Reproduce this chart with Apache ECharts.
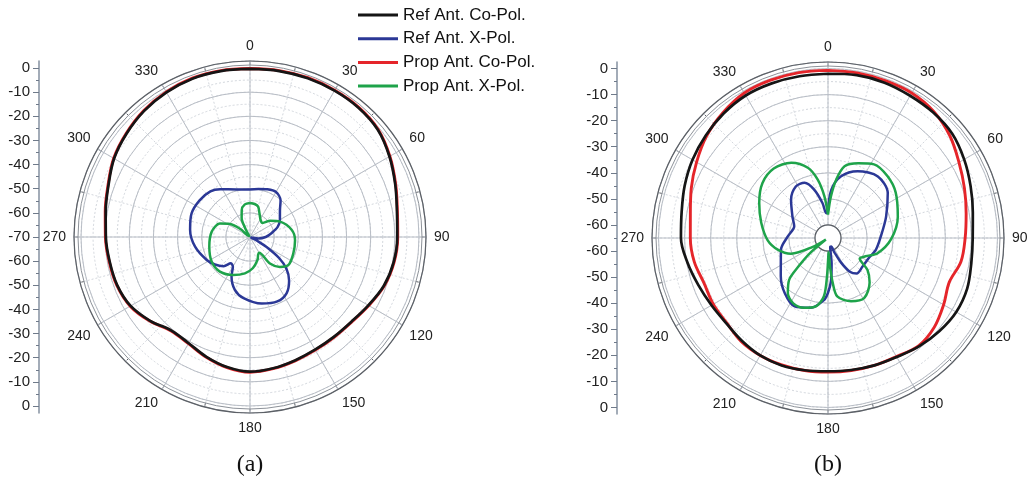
<!DOCTYPE html>
<html>
<head>
<meta charset="utf-8">
<script src="https://cdn.jsdelivr.net/npm/echarts@6/dist/echarts.min.js"></script>
<style>
html,body{margin:0;padding:0;background:#ffffff;}
#c{width:1028px;height:481px;}
</style>
</head>
<body>
<div id="c"></div>
<script>
// ---------------- DATA ----------------
const seriesNames = ['Ref Ant. Co-Pol.', 'Ref Ant. X-Pol.', 'Prop Ant. Co-Pol.', 'Prop Ant. X-Pol.'];
const captions = ['(a)', '(b)'];

// co-pol angles (deg)
const coAngles = [0,10,20,30,40,50,60,70,80,90,100,110,120,130,140,150,160,170,180,190,200,210,220,230,240,250,260,270,280,290,300,310,320,330,340,350,360];

// (a) co-pol, dB
const refCoA  = [-0.4,-0.2,0.0,0.0,-0.1,-0.9,-3.3,-6.0,-8.2,-9.0,-9.6,-11.0,-13.4,-15.3,-16.0,-16.1,-15.6,-14.8,-14.2,-15.3,-17.2,-19.2,-19.4,-16.0,-12.9,-11.5,-11.0,-10.3,-9.3,-7.6,-5.0,-3.3,-1.8,-0.8,-0.2,-0.2,-0.4];
const propCoA = [-0.2,0.0,0.2,0.2,0.1,-0.7,-3.1,-5.8,-8.0,-8.8,-9.4,-10.8,-13.2,-15.1,-15.8,-15.9,-15.4,-14.6,-14.0,-15.1,-17.0,-19.0,-19.2,-15.8,-12.7,-11.3,-10.8,-10.1,-9.1,-7.4,-4.8,-3.1,-1.6,-0.6,0.0,0.0,-0.2];

// (b) co-pol, dB
const refCoB  = [-2.0,-1.6,-1.6,-2.0,-2.2,-2.8,-4.7,-6.8,-8.6,-9.5,-9.2,-8.2,-8.2,-9.3,-10.7,-12.3,-13.0,-13.6,-13.9,-13.5,-13.0,-13.0,-13.6,-14.1,-13.4,-12.1,-10.3,-8.6,-8.0,-6.5,-5.0,-3.8,-2.7,-1.9,-1.9,-2.0,-2.0];
const propCoB = [-0.7,-0.7,-0.8,-0.8,-1.8,-4.0,-7.0,-9.3,-11.2,-12.4,-13.2,-15.5,-13.8,-11.8,-11.0,-12.5,-13.0,-13.4,-13.6,-13.4,-13.2,-13.0,-13.2,-14.3,-14.2,-14.4,-12.9,-12.2,-11.4,-9.2,-6.8,-4.2,-2.3,-0.8,-0.6,-0.6,-0.7];

// (a) X-pol
const refXA_ang  = [0,10,20,30,40,48,60,70,80,90,100,108,114,119,122,126,131,138,147,157,170,186,196,205,210,216,222,232,242,260,277,292,306,319,328,344,360];
const refXA_val  = [-50.3,-49.8,-49.0,-48.5,-50.3,-53.3,-55.7,-57.8,-61.0,-63.5,-66.5,-69.5,-69.8,-66.0,-61.0,-55.0,-50.0,-45.8,-42.2,-41.0,-42.0,-44.5,-47.2,-51.9,-55.8,-56.5,-53.7,-51.5,-49.7,-46.9,-45.0,-43.9,-44.2,-45.0,-46.7,-49.5,-50.3];
const propXA_ang = [0,8,15,22,32,42,51,63,80,94,111,126,135,143,150,155,162,175,188,204,221,237,257,278,294,303,310,318,326,332,336,343,351,360];
const propXA_val = [-55.9,-56.2,-57.0,-59.5,-61.7,-62.2,-59.3,-56.0,-52.5,-51.3,-50.8,-50.3,-52.5,-56.3,-62.5,-62.0,-60.0,-57.0,-54.8,-52.8,-51.0,-51.1,-52.7,-54.0,-56.3,-60.1,-65.0,-69.5,-69.5,-65.5,-61.5,-58.3,-56.3,-55.9];

// (b) X-pol
const refXB_ang  = [0,4,12,24,39,53,70,88,104,115,130,141,147,152,156,160,166,172,176,180,184,194,206,218,231,256,272,289,301,316,328,337,344,351,356,360];
const refXB_val  = [-54.5,-46.4,-40.8,-37.0,-34.6,-36.3,-41.3,-44.7,-46.1,-47.5,-47.8,-47.5,-49.6,-54.3,-59.0,-61.5,-61.5,-55.0,-48.5,-44.0,-41.0,-37.4,-35.8,-38.1,-41.7,-46.4,-49.5,-51.3,-49.1,-44.6,-41.7,-42.0,-45.7,-51.4,-55.5,-54.5];
const propXB_ang = [0,4,8,13,22,32,44,56,73,91,107,116,123,129,137,149,160,171,174,176,178,180,181.5,184,190,199,208,216,223,226,230,236,240,247,257,268,283,297,310,322,334,344,350,355,360];
const propXB_val = [-56.0,-49.0,-42.4,-36.8,-34.1,-31.7,-32.1,-33.7,-37.0,-40.8,-45.1,-49.0,-50.5,-45.5,-41.6,-38.1,-39.2,-42.3,-47.7,-54.0,-59.5,-59.5,-50.3,-42.6,-38.4,-36.7,-36.6,-38.8,-43.2,-49.1,-56.0,-64.0,-58.0,-49.6,-45.2,-41.8,-38.7,-35.4,-32.2,-31.2,-32.9,-37.0,-42.3,-48.9,-56.0];

// side scale tick labels (dB)
const scaleLabelsA = [0,-10,-20,-30,-40,-50,-60,-70,-60,-50,-40,-30,-20,-10,0];
const scaleLabelsB = [0,-10,-20,-30,-40,-50,-60,-60,-50,-40,-30,-20,-10,0];

// ---------------- STYLE / LAYOUT ----------------
const FONT = '"Liberation Sans", Arial, Helvetica, sans-serif';
const SERIF = '"Liberation Serif", "Times New Roman", serif';
const COL = {refCo:'#151515', refX:'#2b3896', propCo:'#e5252a', propX:'#1ea34a'};
const GRID_SOLID = '#b9bec6';
const GRID_DOT = '#d3d7dd';
const FRAME = '#5c6066';
const R_OUT = 176, R_IN = 172;

const plots = [
  {cx:250, cy:237, min:-70, max:2.9, gridInner:0, gridMin:-70, scaleLeft:39, center:70, labels:scaleLabelsA,
   refCo:refCoA, propCo:propCoA, refX:[refXA_ang, refXA_val], propX:[propXA_ang, propXA_val]},
  {cx:828, cy:238, min:-65, max:2.5, gridInner:13.04, gridMin:-60, scaleLeft:617, center:65, labels:scaleLabelsB,
   refCo:refCoB, propCo:propCoB, refX:[refXB_ang, refXB_val], propX:[propXB_ang, propXB_val]}
];

function pairs(angles, vals){ return angles.map((a,i)=>[vals[i], a]); }

const polar = [], angleAxis = [], radiusAxis = [], series = [], grid = [], xAxis = [], yAxis = [], graphic = [];
const hiddenAxis = {axisLine:{show:false}, axisTick:{show:false}, axisLabel:{show:false}, splitLine:{show:false}};

plots.forEach((p, k) => {
  const base = polar.length;
  polar.push({center:[p.cx, p.cy], radius:[p.gridInner, R_OUT]}); // dotted minor grid
  polar.push({center:[p.cx, p.cy], radius:[p.gridInner, R_OUT]}); // main grid, labels, frame
  polar.push({center:[p.cx, p.cy], radius:[0, R_IN]});            // inner frame circle
  polar.push({center:[p.cx, p.cy], radius:[0, R_OUT]});           // data

  angleAxis.push({polarIndex:base, type:'value', min:0, max:360, interval:15, startAngle:90, clockwise:true, z:0,
    axisLine:{show:false}, axisLabel:{show:false},
    axisTick:{show:true, inside:true, length:4, lineStyle:{color:FRAME, width:1}},
    splitLine:{show:true, lineStyle:{color:GRID_DOT, width:1, type:[2,2]}}});
  angleAxis.push({polarIndex:base+1, type:'value', min:0, max:360, interval:30, startAngle:90, clockwise:true, z:2,
    axisLine:{show:true, lineStyle:{color:FRAME, width:1.2}},
    axisTick:{show:false},
    axisLabel:{show:true, margin:8, align:'center', verticalAlign:'middle', color:'#222', fontSize:14, fontFamily:FONT,
      formatter:(v)=> v>=360 ? '' : String(v)},
    splitLine:{show:true, lineStyle:{color:GRID_SOLID, width:1}}});
  angleAxis.push(Object.assign({polarIndex:base+2, type:'value', min:0, max:360, startAngle:90, z:2}, hiddenAxis,
    {axisLine:{show:true, lineStyle:{color:'#8d9299', width:1}}}));
  angleAxis.push(Object.assign({polarIndex:base+3, type:'value', min:0, max:360, startAngle:90, clockwise:true}, hiddenAxis));

  radiusAxis.push({polarIndex:base, type:'value', min:p.gridMin, max:p.max, interval:5, z:0,
    axisLine:{show:false}, axisTick:{show:false}, axisLabel:{show:false},
    splitLine:{show:true, lineStyle:{color:GRID_DOT, width:1, type:[2,2]}}});
  radiusAxis.push({polarIndex:base+1, type:'value', min:p.gridMin, max:p.max, interval:10, z:1,
    axisLine:{show:false}, axisTick:{show:false}, axisLabel:{show:false},
    splitLine:{show:true, lineStyle:{color:GRID_SOLID, width:1}}});
  radiusAxis.push(Object.assign({polarIndex:base+2, type:'value', min:0, max:1}, hiddenAxis));
  radiusAxis.push(Object.assign({polarIndex:base+3, type:'value', min:p.min, max:p.max}, hiddenAxis));

  const common = {type:'line', coordinateSystem:'polar', polarIndex:base+3, symbol:'none', showSymbol:false, clip:false, animation:false};
  series.push(Object.assign({}, common, {name:seriesNames[2], data:pairs(coAngles, p.propCo), smooth:0.35, z:5,
    lineStyle:{color:COL.propCo, width:2.9}, itemStyle:{color:COL.propCo}}));
  series.push(Object.assign({}, common, {name:seriesNames[0], data:pairs(coAngles, p.refCo), smooth:0.35, z:6,
    lineStyle:{color:COL.refCo, width:2.7}, itemStyle:{color:COL.refCo}}));
  series.push(Object.assign({}, common, {name:seriesNames[1], data:pairs(p.refX[0], p.refX[1]), smooth:0.3, z:5,
    lineStyle:{color:COL.refX, width:2.5}, itemStyle:{color:COL.refX}}));
  series.push(Object.assign({}, common, {name:seriesNames[3], data:pairs(p.propX[0], p.propX[1]), smooth:0.3, z:5,
    lineStyle:{color:COL.propX, width:2.5}, itemStyle:{color:COL.propX}}));

  // side scale: label positions measured in dB from the top edge of the scale
  const C = p.center, ext = p.max, n = p.labels.length;
  const majors = p.labels.map((lab, i) => {
    const topHalf = (n % 2 === 1) ? i <= (n - 1) / 2 : i < n / 2;
    return topHalf ? -lab : 2 * C + lab;
  });
  const minors = [];
  for (let v = 0; v <= 2 * C + 1e-9; v += 5) { if (majors.indexOf(v) < 0) minors.push(v); }
  grid.push({left:p.scaleLeft, top:p.cy - R_OUT, width:1, height:2 * R_OUT, containLabel:false});
  xAxis.push({gridIndex:k, type:'value', show:false});
  const yCommon = {gridIndex:k, type:'value', min:-ext, max:2 * C + ext, inverse:true, position:'left', splitLine:{show:false}};
  yAxis.push(Object.assign({}, yCommon, {
    axisLine:{show:true, lineStyle:{color:'#8591a1', width:1.5}},
    axisTick:{show:true, length:6, customValues:majors, lineStyle:{color:'#6f7a8a', width:1}},
    axisLabel:{show:true, customValues:majors, margin:9, color:'#222', fontSize:15, fontFamily:FONT,
      formatter:(v)=>{ const d = Math.round(v <= C ? -v : v - 2 * C); return String(d === 0 ? 0 : d); }}
  }));
  yAxis.push(Object.assign({}, yCommon, {
    axisLine:{show:false},
    axisTick:{show:true, length:3, customValues:minors, lineStyle:{color:'#6f7a8a', width:1}},
    axisLabel:{show:false}
  }));

  graphic.push({type:'text', x:p.cx, y:465, style:{text:captions[k], fontSize:24, fontFamily:SERIF, fill:'#111', align:'center', verticalAlign:'middle'}});
});

const option = {
  backgroundColor:'#ffffff',
  animation:false,
  legend:{
    data:seriesNames.map(n => ({name:n, icon:'rect'})), orient:'vertical', left:358, top:6.5, padding:0,
    itemWidth:40, itemHeight:3, itemGap:6.7,
    textStyle:{fontSize:17, lineHeight:17, color:'#111', fontFamily:FONT}, selectedMode:false
  },
  polar, angleAxis, radiusAxis, grid, xAxis, yAxis, series, graphic
};

const chart = echarts.init(document.getElementById('c'), null, {renderer:'canvas'});
chart.setOption(option);
</script>
</body>
</html>
